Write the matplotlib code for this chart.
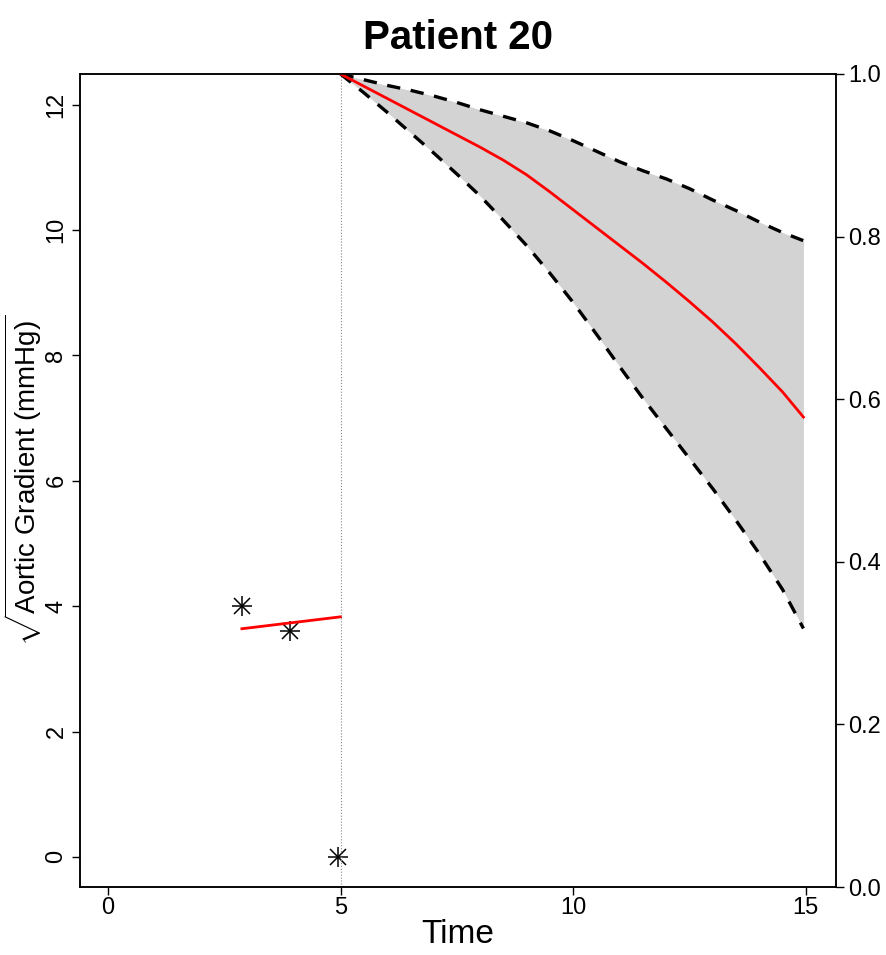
import matplotlib
matplotlib.use('Agg')
import matplotlib.pyplot as plt
import numpy as np

plt.rcParams['font.family'] = ['Liberation Sans', 'DejaVu Sans']
plt.rcParams['mathtext.fontset'] = 'custom'
plt.rcParams['mathtext.rm'] = 'Liberation Sans'
plt.rcParams['mathtext.it'] = 'Liberation Sans:italic'
plt.rcParams['mathtext.bf'] = 'Liberation Sans:bold'

# observed sqrt aortic gradient measurements
obs_time = [2.88, 3.91, 4.94]
obs_value = [4.0, 3.6, 0.0]

# fitted longitudinal trajectory up to last visit
fit_time = [2.88, 5.0]
fit_value = [3.64, 3.83]

last_time = 5.0

# conditional survival estimates after last visit
surv_time = [5.0, 5.5, 6.0, 6.5, 7.0, 7.5, 8.0, 8.5, 9.0, 9.5, 10.0,
             10.5, 11.0, 11.5, 12.0, 12.5, 13.0, 13.5, 14.0, 14.5, 14.95]
surv_mean = [1.0, 0.985, 0.970, 0.955, 0.940, 0.925, 0.910, 0.894, 0.876, 0.855, 0.833,
             0.811, 0.789, 0.767, 0.744, 0.720, 0.695, 0.668, 0.639, 0.609, 0.578]
surv_upper = [1.0, 0.993, 0.986, 0.980, 0.973, 0.965, 0.956, 0.948, 0.940, 0.930, 0.918,
              0.905, 0.892, 0.881, 0.871, 0.859, 0.845, 0.832, 0.818, 0.805, 0.795]
surv_lower = [1.0, 0.977, 0.953, 0.928, 0.903, 0.877, 0.850, 0.820, 0.789, 0.755, 0.719,
              0.680, 0.640, 0.601, 0.564, 0.527, 0.490, 0.451, 0.410, 0.366, 0.318]

fig = plt.figure(figsize=(8.87, 9.55), dpi=100)
ax = fig.add_axes([80 / 887, 1 - 887 / 955, 756 / 887, 813 / 955])

# longitudinal part
ax.plot(obs_time, obs_value, linestyle='none', marker='+', markersize=15,
        markeredgewidth=1.1, color='black')
ax.plot(obs_time, obs_value, linestyle='none', marker='x', markersize=11,
        markeredgewidth=1.1, color='black')
ax.plot(fit_time, fit_value, color='red', linewidth=2.0)
ax.axvline(last_time, color='#888888', linestyle=':', linewidth=0.8)

ax.set_xlim(-0.6, 15.65)
ax.set_ylim(-0.48, 12.49)
ax.set_xticks([0, 5, 10, 15])
ax.set_yticks([0, 2, 4, 6, 8, 10, 12])
ax.tick_params(axis='both', labelsize=17, length=6, width=1, direction='out')
ax.tick_params(axis='x', pad=1)
ax.tick_params(axis='y', pad=3)
for lab in ax.get_yticklabels():
    lab.set_rotation(90)
    lab.set_va('center')

ax.set_xlabel('Time', fontsize=24, labelpad=0)
ax.set_ylabel(r'$\sqrt{\mathrm{Aortic\ Gradient\ (mmHg)}}$', fontsize=20, labelpad=1)
ax.set_title('Patient 20', fontsize=29, fontweight='bold', pad=18)

# survival part on secondary axis
ax2 = ax.twinx()
ax2.set_ylim(0, 1)
ax2.fill_between(surv_time, surv_lower, surv_upper, color='lightgray', linewidth=0)
ax2.plot(surv_time, surv_upper, color='black', linewidth=2.4, linestyle=(0, (4, 3.2)))
ax2.plot(surv_time, surv_lower, color='black', linewidth=2.4, linestyle=(0, (4, 3.2)))
ax2.plot(surv_time, surv_mean, color='red', linewidth=2.0)
ax2.set_yticks([0.0, 0.2, 0.4, 0.6, 0.8, 1.0])
ax2.set_yticklabels(['0.0', '0.2', '0.4', '0.6', '0.8', '1.0'])
ax2.tick_params(axis='y', labelsize=17, length=6, width=1, pad=3)

for a in (ax, ax2):
    for sp in a.spines.values():
        sp.set_linewidth(1.1)

fig.savefig('out.png', dpi=100)
